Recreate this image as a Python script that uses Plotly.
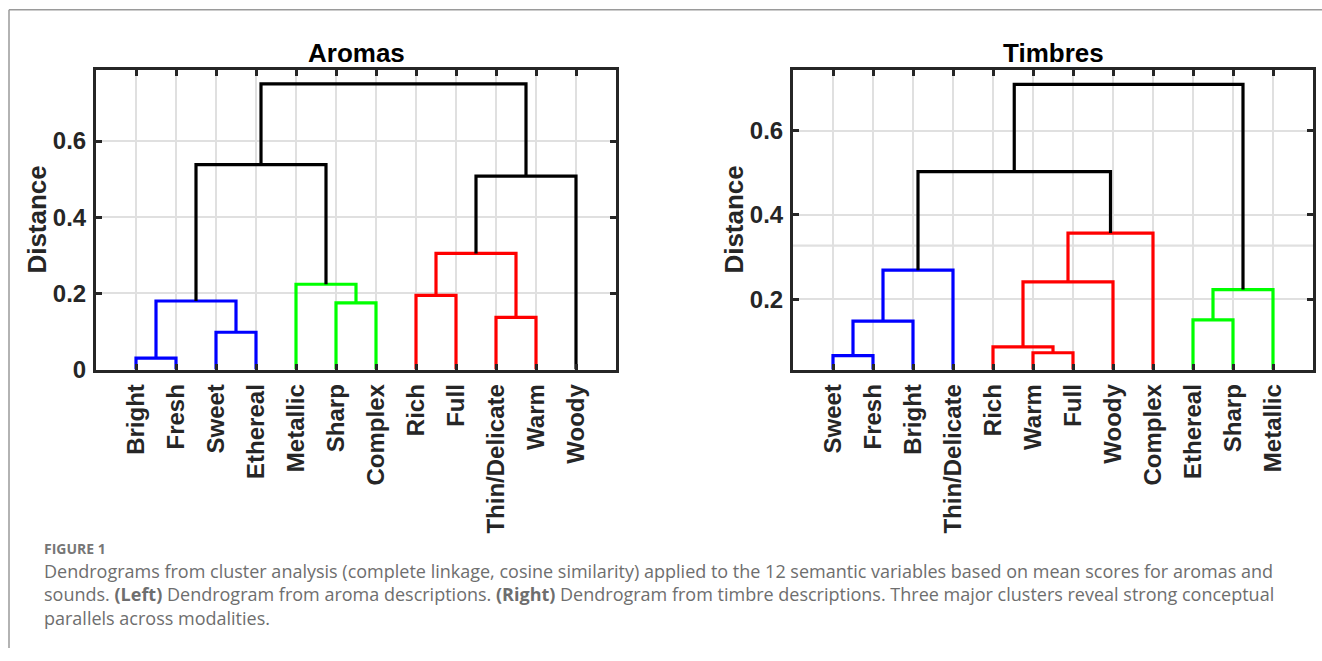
import plotly.graph_objects as go

# ---------------- data ----------------
aroma_labels = ["Bright", "Fresh", "Sweet", "Ethereal", "Metallic", "Sharp",
                "Complex", "Rich", "Full", "Thin/Delicate", "Warm", "Woody"]
# links: (child a, child b); ids < 12 are leaves (display order), id 12+k is link k
aroma_left = [0, 2, 9, 5, 12, 7, 4, 17, 19, 16, 21]
aroma_right = [1, 3, 10, 6, 13, 8, 15, 14, 11, 18, 20]
aroma_height = [0.030, 0.098, 0.137, 0.175, 0.180, 0.195, 0.224, 0.305, 0.508, 0.538, 0.750]
aroma_color = ["blue", "blue", "red", "green", "blue", "red", "green", "red", "black", "black", "black"]

timbre_labels = ["Sweet", "Fresh", "Bright", "Thin/Delicate", "Rich", "Warm",
                 "Full", "Woody", "Complex", "Ethereal", "Sharp", "Metallic"]
timbre_left = [0, 5, 4, 12, 9, 16, 14, 15, 18, 19, 21]
timbre_right = [1, 6, 13, 2, 10, 11, 7, 3, 8, 20, 17]
timbre_height = [0.066, 0.073, 0.087, 0.148, 0.151, 0.223, 0.241, 0.269, 0.357, 0.503, 0.710]
timbre_color = ["blue", "red", "red", "blue", "green", "green", "red", "blue", "red", "black", "black"]

y_ticks_left = [0, 0.2, 0.4, 0.6]
y_ticks_right = [0.2, 0.4, 0.6]

titles = ["Aromas", "Timbres"]
y_title = "Distance"

caption_head = "FIGURE 1"
caption_lines = [
    "Dendrograms from cluster analysis (complete linkage, cosine similarity) applied to the 12 semantic variables based on mean scores for aromas and",
    "sounds. <b>(Left)</b> Dendrogram from aroma descriptions. <b>(Right)</b> Dendrogram from timbre descriptions. Three major clusters reveal strong conceptual",
    "parallels across modalities.",
]

# ---------------- layout constants ----------------
W, H = 1322, 661
def fx(px): return px / W
def fy(py): return 1 - py / H

COLORS = {"blue": "#0000ff", "red": "#ff0000", "green": "#00ff00", "black": "#000000"}
AX = "#262626"
GRID = "#e0e0e0"
FONT = "Liberation Sans, Arial, Helvetica, sans-serif"

fig = go.Figure()


def dendro_traces(left, right, height, color, n, xa, ya):
    pos = {i: i + 1.0 for i in range(n)}
    hts = {i: 0.0 for i in range(n)}
    segs = {c: ([], []) for c in COLORS}
    for k, (a, b, h, c) in enumerate(zip(left, right, height, color)):
        xa_, xb_ = pos[a], pos[b]
        xs, ys = segs[c]
        xs += [xa_, xa_, xb_, xb_, None]
        ys += [hts[a], h, h, hts[b], None]
        pos[n + k] = (xa_ + xb_) / 2
        hts[n + k] = h
    for c in ["blue", "green", "red", "black"]:
        xs, ys = segs[c]
        if xs:
            fig.add_trace(go.Scatter(x=xs, y=ys, mode="lines", xaxis=xa, yaxis=ya,
                                     line=dict(color=COLORS[c], width=3.2),
                                     hoverinfo="skip", showlegend=False))


dendro_traces(aroma_left, aroma_right, aroma_height, aroma_color, 12, "x", "y")
dendro_traces(timbre_left, timbre_right, timbre_height, timbre_color, 12, "x2", "y2")

tickfont = dict(family=FONT, size=24, color=AX, weight="bold")


def xaxis(domain, labels, anchor):
    return dict(domain=domain, anchor=anchor, range=[0, 13],
                tickvals=list(range(1, 13)), ticktext=labels, tickangle=-90,
                ticks="inside", ticklen=6, tickwidth=3, tickcolor=AX,
                showline=True, linewidth=3, linecolor=AX, mirror="ticks",
                showgrid=True, gridcolor=GRID, gridwidth=2.2, zeroline=False,
                tickfont=tickfont, ticklabelstandoff=2)


def yaxis(domain, rng, ticks, anchor):
    return dict(domain=domain, anchor=anchor, range=rng,
                tickvals=ticks, ticktext=[("%g" % t) for t in ticks],
                ticks="inside", ticklen=6, tickwidth=3, tickcolor=AX,
                showline=True, linewidth=3, linecolor=AX, mirror="ticks",
                showgrid=True, gridcolor=GRID, gridwidth=2.2, zeroline=False,
                tickfont=tickfont, ticklabelstandoff=2)


yd = [fy(377), fy(71)]
fig.update_layout(
    width=W, height=H, margin=dict(l=0, r=0, t=0, b=0),
    paper_bgcolor="white", plot_bgcolor="white",
    xaxis=xaxis([fx(96), fx(616)], aroma_labels, "y"),
    yaxis=yaxis(yd, [0, 0.7875], y_ticks_left, "x"),
    xaxis2=xaxis([fx(793), fx(1313)], timbre_labels, "y2"),
    yaxis2=yaxis(yd, [0.033, 0.745], y_ticks_right, "x2"),
)

# stray light line visible in the right panel of the original
fig.add_shape(type="line", xref="x2", yref="y2", x0=0, x1=13, y0=0.327, y1=0.327,
              line=dict(color=GRID, width=2.2), layer="below")

ann = []
for t, cx in zip(titles, [356, 1053]):
    ann.append(dict(text="<b>%s</b>" % t, x=fx(cx), y=fy(54), xref="paper", yref="paper",
                    showarrow=False, xanchor="center", yanchor="middle",
                    font=dict(family=FONT, size=26, color="#000000")))
for cx in [37, 734]:
    ann.append(dict(text="<b>%s</b>" % y_title, x=fx(cx), y=fy(224), xref="paper", yref="paper",
                    showarrow=False, xanchor="center", yanchor="middle", textangle=-90,
                    font=dict(family=FONT, size=26, color=AX)))

CAP = "Open Sans, Lato, sans-serif"
ann.append(dict(text="<b>%s</b>" % caption_head, x=fx(42), y=fy(559), xref="paper", yref="paper",
                showarrow=False, xanchor="left", yanchor="middle",
                font=dict(family=CAP, size=14, color="#767676")))
for line, cy in zip(caption_lines, [582, 606, 630]):
    ann.append(dict(text=line, x=fx(42), y=fy(cy), xref="paper", yref="paper",
                    showarrow=False, xanchor="left", yanchor="middle",
                    font=dict(family=CAP, size=18, color="#6e6e6e")))
fig.update_layout(annotations=ann)

# outer frame (top and left edges visible)
fig.add_shape(type="line", xref="paper", yref="paper", x0=fx(9), x1=1, y0=fy(10), y1=fy(10),
              line=dict(color="#9a9a9a", width=1.5))
fig.add_shape(type="line", xref="paper", yref="paper", x0=fx(9), x1=fx(9), y0=fy(10), y1=0,
              line=dict(color="#9a9a9a", width=1.5))

fig.write_html("out.html")
